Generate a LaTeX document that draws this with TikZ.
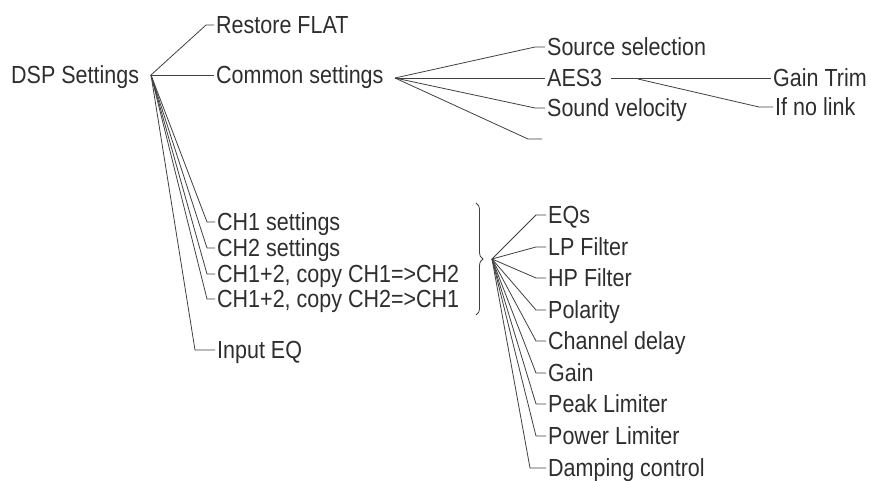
\documentclass[tikz,border=0pt]{standalone}
\usepackage{fontspec}
\usepackage{graphicx}
\setmainfont{Liberation Sans}
\usetikzlibrary{decorations.pathreplacing,calc}
\newcommand{\tallx}[1]{\scalebox{1}[1.15]{#1}}
\begin{document}
\begin{tikzpicture}[x=1pt,y=-1pt,
  lbl/.style={anchor=west, inner xsep=2pt, inner ysep=0pt, text height=17.7pt, text depth=0pt,
    font=\fontsize{21.5}{24}\selectfont, text=black!82},
  conn/.style={draw=black!75, line width=0.8pt}]
\useasboundingbox (0,0) rectangle (871,481);
% level 0
\node[lbl] (dsp) at (9,75) {\tallx{DSP Settings}};
\coordinate (dspR) at (151,75);
% level 1
\node[lbl] (flat) at (214,25) {\tallx{Restore FLAT}};
\node[lbl] (common) at (214,75) {\tallx{Common settings}};
\node[lbl] (ch1) at (215,222) {\tallx{CH1 settings}};
\node[lbl] (ch2) at (215,248) {\tallx{CH2 settings}};
\node[lbl] (cpa) at (215,274) {\tallx{CH1+2, copy CH1=>CH2}};
\node[lbl] (cpb) at (215,299) {\tallx{CH1+2, copy CH2=>CH1}};
\node[lbl] (ineq) at (215,350) {\tallx{Input EQ}};
% common settings children
\coordinate (comR) at (395,78);
\node[lbl] (src) at (545,47) {\tallx{Source selection}};
\node[lbl] (aes) at (545,78) {\tallx{AES3}};
\node[lbl] (vel) at (545,108) {\tallx{Sound velocity}};
\coordinate (empty) at (542,139);
\coordinate (aesF) at (638,79);
\node[lbl] (trim) at (771,78) {\tallx{Gain Trim}};
\node[lbl] (nolink) at (773,107) {\tallx{If no link}};
% channel settings children
\coordinate (brR) at (492,259);
\node[lbl] (eqs) at (546,215) {\tallx{EQs}};
\node[lbl] (lp) at (546,247) {\tallx{LP Filter}};
\node[lbl] (hp) at (546,278) {\tallx{HP Filter}};
\node[lbl] (pol) at (546,310) {\tallx{Polarity}};
\node[lbl] (cd) at (546,341) {\tallx{Channel delay}};
\node[lbl] (gain) at (546,373) {\tallx{Gain}};
\node[lbl] (peak) at (546,404) {\tallx{Peak Limiter}};
\node[lbl] (power) at (546,436) {\tallx{Power Limiter}};
\node[lbl] (damp) at (546,468) {\tallx{Damping control}};
% connectors: DSP Settings
\draw[conn] (dspR) -- ([xshift=-8pt]flat.west) -- (flat.west);
\draw[conn] (dspR) -- (common.west);
\foreach \n in {ch1,ch2,cpa,cpb}
  \draw[conn] (dspR) -- ([xshift=-8pt]\n.west) -- (\n.west);
\draw[conn] (dspR) -- ([xshift=-20pt]ineq.west) -- (ineq.west);
% connectors: Common settings
\foreach \n in {src,vel}
  \draw[conn] (comR) -- ([xshift=-10pt]\n.west) -- (\n.west);
\draw[conn] (comR) -- (aes.west);
\draw[conn] (comR) -- ($(empty)+(-14,0)$) -- (empty);
% connectors: AES3
\draw[conn] ([xshift=7pt]aes.east) -- (trim.west);
\draw[conn] (aesF) -- ([xshift=-14pt]nolink.west) -- (nolink.west);
% brace
\draw[conn, decorate, decoration={brace,amplitude=7pt}] (476,203) -- (476,315);
% connectors: channel settings
\foreach \n in {eqs,lp,hp,pol,cd,gain,peak,power}
  \draw[conn] (brR) -- ([xshift=-10pt]\n.west) -- (\n.west);
\draw[conn] (brR) -- ([xshift=-16pt]damp.west) -- (damp.west);
\end{tikzpicture}
\end{document}
